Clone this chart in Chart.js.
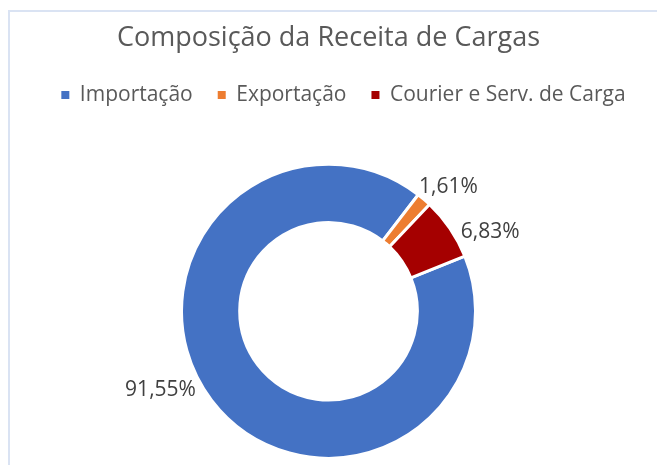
<!DOCTYPE html>
<html>
<head>
<meta charset="utf-8">
<script src="https://cdn.jsdelivr.net/npm/chart.js@4"></script>
<style>
  html, body { margin: 0; padding: 0; background: #fff; }
  #wrap { position: relative; width: 657px; height: 465px; overflow: hidden; }
  #frame { position: absolute; left: 8px; top: 10px; right: -4px; bottom: -4px;
           border-top: 2px solid #DAE3F3; border-left: 2px solid #DAE3F3; }
  canvas { position: absolute; left: 0; top: 0; }
</style>
</head>
<body>
<div id="wrap">
  <div id="frame"></div>
  <canvas id="receita" width="657" height="465"></canvas>
</div>
<script>
  const categories = ["Importação", "Exportação", "Courier e Serv. de Carga"];
  const shares = [91.55, 1.61, 6.83];
  const sliceColors = ["#4472C4", "#ED7D31", "#A50000"];

  const FONT = "'Open Sans', 'Noto Sans', sans-serif";
  const fmt = (v) => v.toFixed(2).replace(".", ",") + "%";

  // extra room under the legend, and nudge it a bit right like the original
  const legendGap = {
    id: "legendGap",
    beforeInit(chart) {
      const fit = chart.legend.fit;
      chart.legend.fit = function () {
        fit.call(this);
        this.height += 42;
      };
    },
    afterLayout(chart) {
      chart.legend.left += 15;
      chart.legend.right += 15;
    }
  };

  // percentage labels outside the ring
  const sliceLabels = {
    id: "sliceLabels",
    afterDatasetsDraw(chart, args, opts) {
      const ctx = chart.ctx;
      const meta = chart.getDatasetMeta(0);
      ctx.save();
      ctx.font = `21px ${FONT}`;
      ctx.fillStyle = "#404040";
      ctx.textBaseline = "middle";
      meta.data.forEach((arc, i) => {
        const p = arc.getProps(["x", "y", "startAngle", "endAngle", "outerRadius"], true);
        const mid = (p.startAngle + p.endAngle) / 2 + (opts.shift[i] || 0) * Math.PI / 180;
        const r = p.outerRadius + opts.gap;
        ctx.textAlign = Math.cos(mid) >= 0 ? "left" : "right";
        ctx.fillText(fmt(shares[i]), p.x + Math.cos(mid) * r, p.y + Math.sin(mid) * r);
      });
      ctx.restore();
    }
  };

  new Chart(document.getElementById("receita"), {
    type: "doughnut",
    data: {
      labels: categories,
      datasets: [{
        data: shares,
        backgroundColor: sliceColors,
        borderColor: "#ffffff",
        borderWidth: 3,
      }]
    },
    options: {
      responsive: false,
      animation: false,
      rotation: 68,
      radius: 147,
      cutout: 92,
      plugins: {
        title: {
          display: true,
          text: "Composição da Receita de Cargas",
          color: "#595959",
          font: { family: FONT, size: 27, weight: "normal" },
          padding: { top: 22, bottom: 5 }
        },
        legend: {
          position: "top",
          labels: {
            boxWidth: 8,
            boxHeight: 8,
            padding: 25,
            color: "#595959",
            font: { family: FONT, size: 21 },
            generateLabels: (chart) =>
              Chart.overrides.doughnut.plugins.legend.labels.generateLabels(chart)
                .map(item => ({ ...item, lineWidth: 0 }))
          }
        },
        tooltip: { enabled: false },
        sliceLabels: { gap: 7, shift: [6.6, -4.5, 3.5] }
      }
    },
    plugins: [legendGap, sliceLabels]
  });
</script>
</body>
</html>
